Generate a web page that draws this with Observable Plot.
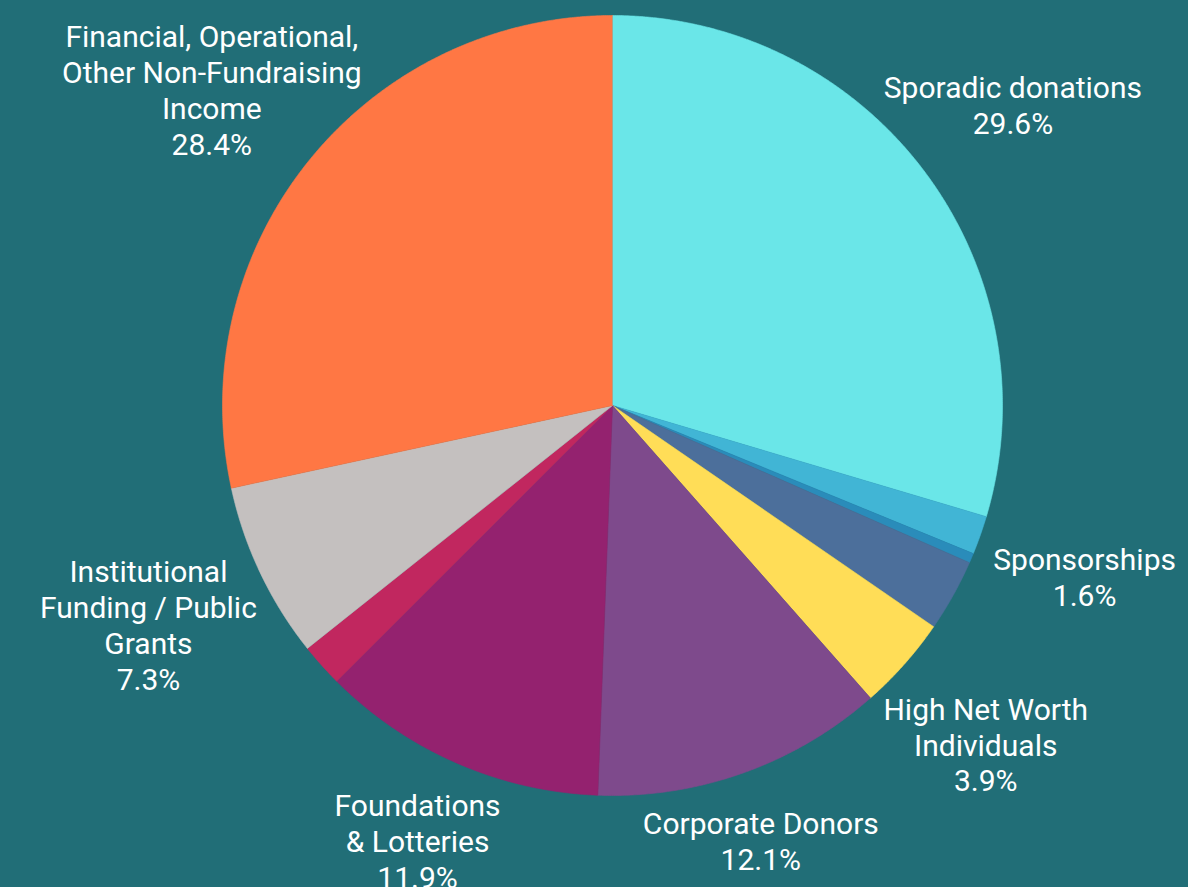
<!DOCTYPE html>
<html>
<head>
<meta charset="utf-8">
<script src="https://cdn.jsdelivr.net/npm/d3@7"></script>
<script src="https://cdn.jsdelivr.net/npm/@observablehq/plot@0.6"></script>
<style>
  html, body { margin: 0; padding: 0; background: #216e77; }
  #chart { width: 1188px; height: 887px; overflow: hidden; }
</style>
</head>
<body>
<div id="chart"></div>
<script>
// Slices, clockwise from 12 o'clock
const categories = [
  "Sporadic donations",
  "Sponsorships",
  "Unlabelled A",
  "Unlabelled B",
  "High Net Worth Individuals",
  "Corporate Donors",
  "Foundations & Lotteries",
  "Unlabelled C",
  "Institutional Funding / Public Grants",
  "Financial, Operational, Other Non-Fundraising Income"
];
const values = [29.6, 1.6, 0.4, 3.0, 3.9, 12.1, 11.9, 1.8, 7.3, 28.4];
const labelTexts = [
  "Sporadic donations",
  "Sponsorships",
  null,
  null,
  "High Net Worth\nIndividuals",
  "Corporate Donors",
  "Foundations\n& Lotteries",
  null,
  "Institutional\nFunding / Public\nGrants",
  "Financial, Operational,\nOther Non-Fundraising\nIncome"
];
const colors = [
  "#6ae6e8", "#41b5d5", "#2a8cba", "#4c6f9b", "#ffdd57",
  "#7e4a8c", "#94226f", "#c1275f", "#c4c0bf", "#ff7744"
];

const table = categories.map((c, i) => ({category: c, value: values[i], label: labelTexts[i]}));
const arcs = d3.pie().sort(null).value(d => d.value)(table);

// polygon points for each slice (unit circle, y up)
const pts = [];
arcs.forEach(a => {
  const key = a.data.category;
  pts.push({key, x: 0, y: 0});
  const n = Math.max(2, Math.ceil((a.endAngle - a.startAngle) / 0.005));
  for (let k = 0; k <= n; k++) {
    const t = a.startAngle + (a.endAngle - a.startAngle) * k / n;
    pts.push({key, x: Math.sin(t), y: Math.cos(t)});
  }
});

const labelR = 1.3;
const bottomLimit = 1.11;
const labels = arcs.filter(a => a.data.label).map(a => {
  const m = (a.startAngle + a.endAngle) / 2;
  const c = Math.cos(m);
  const r = c < 0 ? Math.min(labelR, bottomLimit / -c) : labelR;
  return {
    text: a.data.label + "\n" + a.data.value.toFixed(1) + "%",
    x: r * Math.sin(m),
    y: r * c
  };
});

const chart = Plot.plot({
  width: 1188,
  height: 887,
  marginLeft: 222,
  marginRight: 186,
  marginTop: 15,
  marginBottom: 92,
  x: {domain: [-1, 1], axis: null},
  y: {domain: [-1, 1], axis: null},
  color: {domain: categories, range: colors},
  style: {background: "#216e77", fontFamily: "Roboto, sans-serif", overflow: "hidden"},
  marks: [
    Plot.line(pts, {x: "x", y: "y", z: "key", fill: "key", stroke: "key", strokeWidth: 0.6, curve: "linear"}),
    Plot.text(labels, {
      x: "x", y: "y", text: "text", dx: -6, dy: 2,
      fill: "white", fontSize: 30, lineHeight: 1.2, fontWeight: 400,
      textAnchor: "middle", lineAnchor: "middle",
      fontFamily: "Roboto, sans-serif"
    })
  ]
});
document.getElementById("chart").appendChild(chart);
</script>
</body>
</html>
